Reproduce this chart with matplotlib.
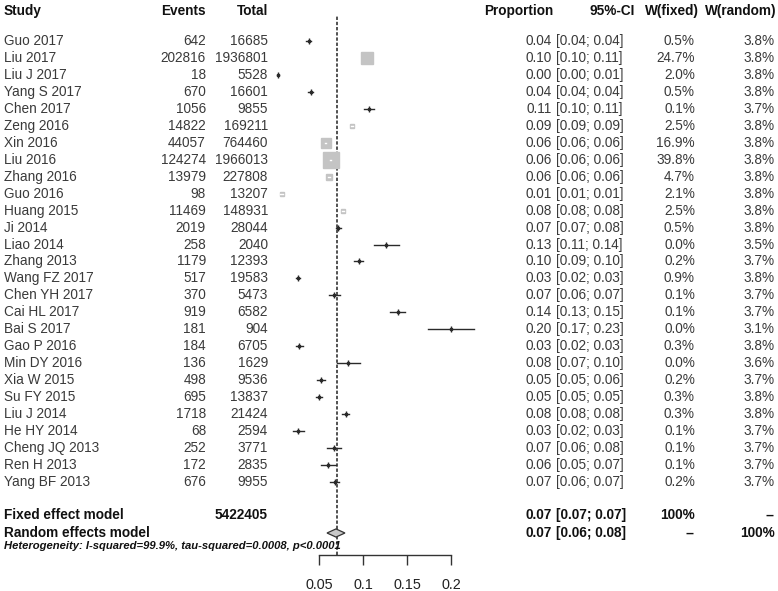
import matplotlib
matplotlib.use("Agg")
import matplotlib.pyplot as plt
import matplotlib.transforms as mtransforms
from matplotlib.patches import Polygon
import numpy as np

plt.rcParams['font.family'] = ['Liberation Sans', 'DejaVu Sans']

studies = ["Guo 2017", "Liu 2017", "Liu J 2017", "Yang S 2017", "Chen 2017", "Zeng 2016",
           "Xin 2016", "Liu 2016", "Zhang 2016", "Guo 2016", "Huang 2015", "Ji 2014",
           "Liao 2014", "Zhang 2013", "Wang FZ 2017", "Chen YH 2017", "Cai HL 2017",
           "Bai S 2017", "Gao P 2016", "Min DY 2016", "Xia W 2015", "Su FY 2015",
           "Liu J 2014", "He HY 2014", "Cheng JQ 2013", "Ren H 2013", "Yang BF 2013"]
events = [642, 202816, 18, 670, 1056, 14822, 44057, 124274, 13979, 98, 11469, 2019,
          258, 1179, 517, 370, 919, 181, 184, 136, 498, 695, 1718, 68, 252, 172, 676]
totals = [16685, 1936801, 5528, 16601, 9855, 169211, 764460, 1966013, 227808, 13207,
          148931, 28044, 2040, 12393, 19583, 5473, 6582, 904, 6705, 1629, 9536, 13837,
          21424, 2594, 3771, 2835, 9955]
# point estimates and CI bounds (as drawn)
prop = [0.0385, 0.1047, 0.0033, 0.0404, 0.1072, 0.0876, 0.0576, 0.0632, 0.0614, 0.0074,
        0.0770, 0.0720, 0.1265, 0.0951, 0.0264, 0.0676, 0.1396, 0.2002, 0.0274, 0.0835,
        0.0522, 0.0502, 0.0802, 0.0262, 0.0668, 0.0607, 0.0679]
ci_lo = [0.0356, 0.1043, 0.0019, 0.0374, 0.1010, 0.0862, 0.0571, 0.0629, 0.0604, 0.0060,
         0.0757, 0.0690, 0.1120, 0.0900, 0.0242, 0.0610, 0.1310, 0.1740, 0.0236, 0.0700,
         0.0478, 0.0466, 0.0766, 0.0200, 0.0590, 0.0520, 0.0630]
ci_hi = [0.0414, 0.1051, 0.0051, 0.0434, 0.1130, 0.0890, 0.0582, 0.0636, 0.0623, 0.0090,
         0.0784, 0.0750, 0.1410, 0.1000, 0.0287, 0.0740, 0.1480, 0.2260, 0.0314, 0.0970,
         0.0567, 0.0539, 0.0838, 0.0324, 0.0750, 0.0695, 0.0728]
prop_txt = ["0.04", "0.10", "0.00", "0.04", "0.11", "0.09", "0.06", "0.06", "0.06", "0.01",
            "0.08", "0.07", "0.13", "0.10", "0.03", "0.07", "0.14", "0.20", "0.03", "0.08",
            "0.05", "0.05", "0.08", "0.03", "0.07", "0.06", "0.07"]
ci_txt = ["[0.04; 0.04]", "[0.10; 0.11]", "[0.00; 0.01]", "[0.04; 0.04]", "[0.10; 0.11]",
          "[0.09; 0.09]", "[0.06; 0.06]", "[0.06; 0.06]", "[0.06; 0.06]", "[0.01; 0.01]",
          "[0.08; 0.08]", "[0.07; 0.08]", "[0.11; 0.14]", "[0.09; 0.10]", "[0.02; 0.03]",
          "[0.06; 0.07]", "[0.13; 0.15]", "[0.17; 0.23]", "[0.02; 0.03]", "[0.07; 0.10]",
          "[0.05; 0.06]", "[0.05; 0.05]", "[0.08; 0.08]", "[0.02; 0.03]", "[0.06; 0.08]",
          "[0.05; 0.07]", "[0.06; 0.07]"]
w_fixed = [0.5, 24.7, 2.0, 0.5, 0.1, 2.5, 16.9, 39.8, 4.7, 2.1, 2.5, 0.5, 0.0, 0.2, 0.9,
           0.1, 0.1, 0.0, 0.3, 0.0, 0.2, 0.3, 0.3, 0.1, 0.1, 0.1, 0.2]
w_random = [3.8, 3.8, 3.8, 3.8, 3.7, 3.8, 3.8, 3.8, 3.8, 3.8, 3.8, 3.8, 3.5, 3.7, 3.8,
            3.7, 3.7, 3.1, 3.8, 3.6, 3.7, 3.8, 3.8, 3.7, 3.7, 3.7, 3.7]

total_n = "5422405"
fixed_est, fixed_txt, fixed_ci_txt = 0.0705, "0.07", "[0.07; 0.07]"
random_est, random_lo, random_hi = 0.0693, 0.0591, 0.0795
random_txt, random_ci_txt = "0.07", "[0.06; 0.08]"
het_txt = "Heterogeneity: I-squared=99.9%, tau-squared=0.0008, p<0.0001"
xticks = [0.05, 0.1, 0.15, 0.2]
xtick_labels = ["0.05", "0.1", "0.15", "0.2"]

W, H = 778, 591
fig = plt.figure(figsize=(W / 100, H / 100), dpi=100)

# forest panel: pixels x 250..480 ; y 15..555
px0, px1 = 250, 480
py_top, py_bot = 15, 555
ax = fig.add_axes([px0 / W, 1 - py_bot / H, (px1 - px0) / W, (py_bot - py_top) / H])
scale = 880.0  # px per unit
ax.set_xlim(0.05 - (319 - px0) / scale, 0.05 + (px1 - 319) / scale)
row0_px, row_h = 41.0, 16.96
ax.set_ylim((py_bot - row0_px) / row_h, (py_top - row0_px) / row_h)

for s in ["top", "left", "right"]:
    ax.spines[s].set_visible(False)
ax.spines["bottom"].set_bounds(0.05, 0.2)
ax.spines["bottom"].set_color("#333333")
ax.spines["bottom"].set_linewidth(1.0)
ax.set_yticks([])
ax.set_xticks(xticks)
ax.set_xticklabels(xtick_labels, fontsize=10.4, color="#222222")
ax.tick_params(axis="x", length=7.5, width=1.0, color="#333333", pad=9)
ax.patch.set_alpha(0)

n = len(studies)
# reference dashed line
ax.axvline(fixed_est, color="#222222", lw=1.1, ls=(0, (2.2, 1.2)), zorder=1)

for i in range(n):
    side_px = 2.4 * np.sqrt(w_fixed[i]) + 1.0
    half = side_px / 2 / scale
    big = w_fixed[i] >= 2.05
    inside = (ci_lo[i] >= prop[i] - half) and (ci_hi[i] <= prop[i] + half)
    if big:
        ax.plot(prop[i], i, marker="s", ms=side_px * 0.72, color="#c4c4c4", mec="#c4c4c4",
                zorder=3)
    lc = "white" if inside and big else "#2a2a2a"
    ax.plot([ci_lo[i], ci_hi[i]], [i, i], color=lc, lw=1.0, zorder=4)
    if not (inside and big):
        ax.plot(prop[i], i, marker="|", ms=4, mew=1.0, color="#2a2a2a", zorder=4)
    if not big:
        ax.plot(prop[i], i, marker="s", ms=2.0, color="#2a2a2a", zorder=4)

y_fixed = (515 - row0_px) / row_h
y_random = (533 - row0_px) / row_h
y_het = (546 - row0_px) / row_h
y_head = (11 - row0_px) / row_h

dh = 0.24
diamond = Polygon([[random_lo, y_random], [random_est, y_random - dh],
                   [random_hi, y_random], [random_est, y_random + dh]],
                  closed=True, facecolor="#c8c8c8", edgecolor="#333333", lw=0.9, zorder=5)
ax.add_patch(diamond)

# text table
tr = mtransforms.blended_transform_factory(fig.transFigure, ax.transData)
fs = 9.8
tcol = "#3a3a3a"

def put(xpx, y, s, ha="left", weight="normal", color=tcol, size=fs, style="normal"):
    ax.text(xpx / W, y, s, transform=tr, ha=ha, va="center", fontsize=size,
            fontweight=weight, color=color, clip_on=False, fontstyle=style)

hdr = "#111111"
put(4, y_head, "Study", weight="bold", color=hdr)
put(206, y_head, "Events", ha="right", weight="bold", color=hdr)
put(268, y_head, "Total", ha="right", weight="bold", color=hdr)
put(553, y_head, "Proportion", ha="right", weight="bold", color=hdr)
put(635, y_head, "95%-CI", ha="right", weight="bold", color=hdr)
put(699, y_head, "W(fixed)", ha="right", weight="bold", color=hdr)
put(776, y_head, "W(random)", ha="right", weight="bold", color=hdr)

for i in range(n):
    put(4, i, studies[i])
    put(206, i, str(events[i]), ha="right")
    put(268, i, str(totals[i]), ha="right")
    put(552, i, prop_txt[i], ha="right")
    put(556, i, ci_txt[i], ha="left")
    put(695, i, f"{w_fixed[i]:.1f}%", ha="right")
    put(775, i, f"{w_random[i]:.1f}%", ha="right")

put(4, y_fixed, "Fixed effect model", weight="bold", color=hdr)
put(268, y_fixed, total_n, ha="right", weight="bold", color=hdr)
put(552, y_fixed, fixed_txt, ha="right", weight="bold", color=hdr)
put(556, y_fixed, fixed_ci_txt, ha="left", weight="bold", color=hdr)
put(695, y_fixed, "100%", ha="right", weight="bold", color=hdr)
put(775, y_fixed, "--", ha="right", weight="bold", color=hdr)

put(4, y_random, "Random effects model", weight="bold", color=hdr)
put(552, y_random, random_txt, ha="right", weight="bold", color=hdr)
put(556, y_random, random_ci_txt, ha="left", weight="bold", color=hdr)
put(695, y_random, "--", ha="right", weight="bold", color=hdr)
put(775, y_random, "100%", ha="right", weight="bold", color=hdr)

put(4, y_het, het_txt, weight="bold", color=hdr, size=8.1, style="italic")

fig.savefig("out.png", dpi=100)
